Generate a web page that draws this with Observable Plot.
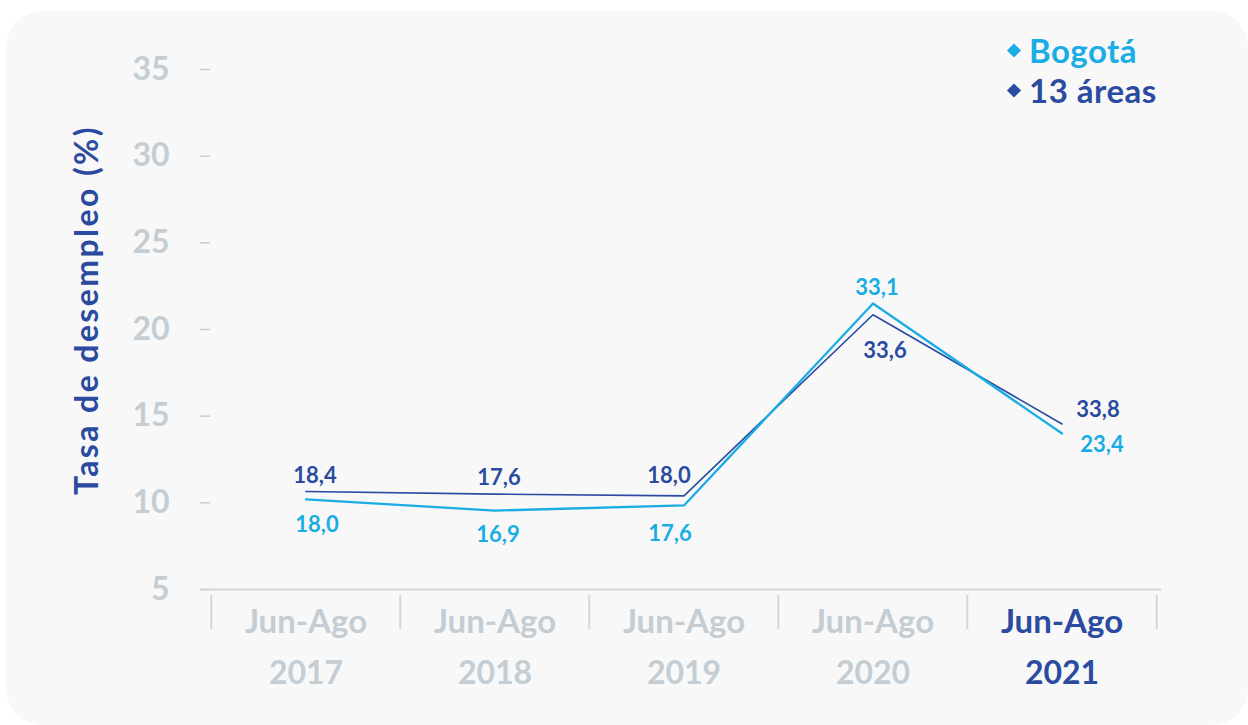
<!DOCTYPE html>
<html>
<head>
<meta charset="utf-8">
<script src="https://cdn.jsdelivr.net/npm/d3@7"></script>
<script src="https://cdn.jsdelivr.net/npm/@observablehq/plot@0.6"></script>
<style>
  html, body { margin: 0; padding: 0; background: #ffffff; width: 1248px; height: 725px; overflow: hidden; }
  body { position: relative; font-family: Lato, "Open Sans", sans-serif; }
  #card { position: absolute; left: 6px; top: 11px; width: 1242px; height: 714px; border-radius: 36px; background: #f8f8f8; }
  #chart { position: absolute; left: 0; top: 0; }
  #ytitle { position: absolute; left: 85px; top: 310px; transform: translate(-50%, -50%) rotate(-90deg); white-space: nowrap;
            font-weight: 700; font-size: 32px; color: #2a4b9f; letter-spacing: 2.4px; }
  .leg { position: absolute; left: 1029px; font-weight: 700; font-size: 33px; letter-spacing: 0.5px; line-height: 1; white-space: nowrap; transform: translateY(-50%); }
  .leg .dia { position: absolute; left: -20px; top: 50%; width: 10px; height: 10px; transform: translateY(-50%) rotate(45deg); }
</style>
</head>
<body>
<div id="card"></div>
<div id="chart"></div>
<div id="ytitle">Tasa de desempleo (%)</div>
<div id="legend"></div>
<script>
// ---- data ----
const anios = ["2017", "2018", "2019", "2020", "2021"];
const periodo = "Jun-Ago";
const anioDestacado = "2021";
const series = ["Bogotá", "13 áreas"];
const bogota = [10.2, 9.55, 9.85, 21.5, 14.0];
const areas13 = [10.65, 10.5, 10.4, 20.85, 14.55];
const bogotaEtiquetas = ["18,0", "16,9", "17,6", "33,1", "23,4"];
const areas13Etiquetas = ["18,4", "17,6", "18,0", "33,6", "33,8"];
const ticksY = [5, 10, 15, 20, 25, 30, 35];

// ---- styles ----
const DARK = "#2a4b9f";
const LIGHT = "#19ade4";
const GRAY = "#c4cdd3";
const AXIS = "#cfd7dc";
const colores = {"Bogotá": LIGHT, "13 áreas": DARK};
// label nudges (px) relative to each point
const nudgeBogota = [[11, 26], [3, 24], [-14, 29], [4, -16], [40, 11]];
const nudgeAreas = [[9, -16], [4, -16], [-15, -20], [12, 36], [36, -14]];

const W = 1248, H = 725;
const mL = 210, mR = 91, mT = 69, mB = 136;
const bw = (W - mL - mR) / anios.length;

const rowsB = anios.map((a, i) => ({anio: a, valor: bogota[i], etiqueta: bogotaEtiquetas[i], i}));
const rowsA = anios.map((a, i) => ({anio: a, valor: areas13[i], etiqueta: areas13Etiquetas[i], i}));

const labelMarks = [];
rowsB.forEach((d, i) => labelMarks.push(Plot.text([d], {x: "anio", y: "valor", text: "etiqueta", dx: nudgeBogota[i][0], dy: nudgeBogota[i][1], fill: LIGHT, fontSize: 22, fontWeight: 700})));
rowsA.forEach((d, i) => labelMarks.push(Plot.text([d], {x: "anio", y: "valor", text: "etiqueta", dx: nudgeAreas[i][0], dy: nudgeAreas[i][1], fill: DARK, fontSize: 22, fontWeight: 700})));

const chart = Plot.plot({
  width: W, height: H,
  marginLeft: mL, marginRight: mR, marginTop: mT, marginBottom: mB,
  style: {background: "transparent", fontFamily: "Lato, 'Open Sans', sans-serif", overflow: "visible"},
  x: {type: "band", domain: anios, padding: 0, label: null},
  y: {domain: [5, 35], label: null},
  marks: [
    Plot.axisY(ticksY, {tickSize: 10, tickPadding: 31, stroke: GRAY, strokeWidth: 1.5, fill: GRAY, fontSize: 32, fontWeight: 700, label: null}),
    Plot.ruleY([5], {stroke: AXIS, strokeWidth: 2.2, insetLeft: -10, insetRight: -4}),
    Plot.axisX(anios, {tickSize: 34, dy: 6, dx: -bw / 2, tickFormat: () => "", stroke: AXIS, strokeWidth: 2, label: null}),
    Plot.axisX([anios[anios.length - 1]], {tickSize: 34, dy: 6, dx: bw / 2, tickFormat: () => "", stroke: AXIS, strokeWidth: 2, label: null}),
    Plot.text(anios, {x: d => d, text: () => periodo, frameAnchor: "bottom", lineAnchor: "middle", dy: 33, fill: d => d === anioDestacado ? DARK : GRAY, fontSize: 33, fontWeight: 700, letterSpacing: 0.5}),
    Plot.text(anios, {x: d => d, text: d => d, frameAnchor: "bottom", lineAnchor: "middle", dy: 84, fill: d => d === anioDestacado ? DARK : GRAY, fontSize: 32, fontWeight: 700}),
    Plot.line(rowsA, {x: "anio", y: "valor", stroke: DARK, strokeWidth: 1.6}),
    Plot.line(rowsB, {x: "anio", y: "valor", stroke: LIGHT, strokeWidth: 2.3}),
    ...labelMarks
  ]
});
document.getElementById("chart").appendChild(chart);

// legend
const legend = document.getElementById("legend");
const legendY = [50, 90];
series.forEach((s, i) => {
  const el = document.createElement("div");
  el.className = "leg";
  el.style.top = legendY[i] + "px";
  el.style.color = colores[s];
  el.innerHTML = `<span class="dia" style="background:${colores[s]}"></span>${s}`;
  legend.appendChild(el);
});
</script>
</body>
</html>
